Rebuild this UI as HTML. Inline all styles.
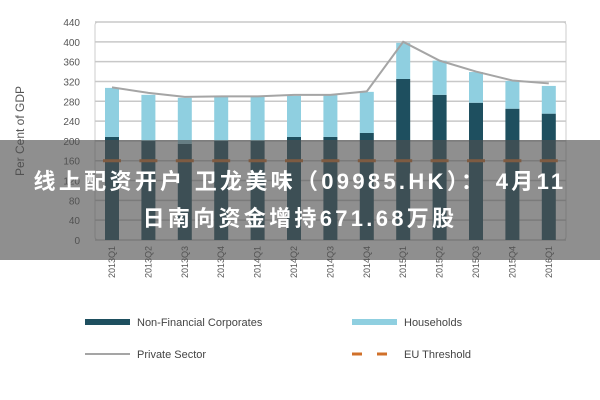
<!DOCTYPE html>
<html><head><meta charset="utf-8"><style>
body{margin:0;width:600px;height:400px;background:#fff;overflow:hidden;font-family:"Liberation Sans","Noto Sans CJK SC",sans-serif}
#banner{position:absolute;left:0;top:140px;width:600px;height:120px;background:rgba(80,80,80,0.64);color:#fff;font-weight:bold;font-size:22px;letter-spacing:3.3px;text-align:center;line-height:37px;display:flex;flex-direction:column;justify-content:center;white-space:nowrap}
</style></head><body>
<svg id="chart" width="600" height="400" style="position:absolute;left:0;top:0"></svg>
<div id="banner"><div>线上配资开户 卫龙美味（09985.HK）： 4月11</div><div>日南向资金增持671.68万股</div></div>
<script>
const categories=["2013Q1","2013Q2","2013Q3","2013Q4","2014Q1","2014Q2","2014Q3","2014Q4","2015Q1","2015Q2","2015Q3","2015Q4","2016Q1"];
const corporates=[208,200,194,200,200,208,208,216,325,293,277,265,255];
const households=[99,93,93,89,89,83,85,83,73,69,62,56,56];
const privateSector=[308,297,289,290,290,293,293,300,400,362,340,322,316];
const euThreshold=160;
const yTicks=[0,40,80,120,160,200,240,280,320,360,400,440];
const NS="http://www.w3.org/2000/svg",svg=document.getElementById('chart');
const L=95,R=566,T=22,B=240;
const y=v=>B-(v/440)*(B-T);
const x=i=>112+i*36.4;
function mk(t,a,p){const e=document.createElementNS(NS,t);for(const k in a)e.setAttribute(k,a[k]);(p||svg).appendChild(e);return e;}
let e=mk('rect',{x:L,y:T,width:R-L,height:B-T,fill:'#fff',stroke:'#ccc',rx:3});

yTicks.forEach(v=>{
 let g=mk('line',{x1:L,x2:R,y1:y(v),y2:y(v),stroke:'#c8c8c8','stroke-width':1.5});
 
 let t=mk('text',{x:80,y:y(v)+4,'text-anchor':'end','font-size':10,fill:'#555'});t.textContent=v;
 
});
let yt=mk('text',{x:24,y:131,transform:'rotate(-90 24 131)','text-anchor':'middle','font-size':12,fill:'#555'});yt.textContent='Per Cent of GDP';

categories.forEach((c,i)=>{
 let b=mk('rect',{x:x(i)-7,y:y(corporates[i]),width:14,height:B-y(corporates[i]),fill:'#1e4f5f'});
 
 let h=mk('rect',{x:x(i)-7,y:y(corporates[i]+households[i]),width:14,height:y(corporates[i])-y(corporates[i]+households[i]),fill:'#8fcfe0'});
 
 let d=mk('line',{x1:x(i)-9,x2:x(i)+9,y1:y(euThreshold),y2:y(euThreshold),stroke:'#d0702a','stroke-width':3});
 
 let t=mk('text',{x:x(i)+3,y:246,transform:`rotate(-90 ${x(i)+3} 246)`,'text-anchor':'end','font-size':9,fill:'#555'});t.textContent=c;
 
});
let pl=mk('polyline',{points:privateSector.map((v,i)=>x(i)+','+y(v)).join(' '),fill:'none',stroke:'#a5a5a5','stroke-width':2});

function leg(name,xx,yy,type,label){
 let g=mk('g',{});
 if(type==='dark')mk('rect',{x:xx,y:yy-3,width:45,height:6,fill:'#1e4f5f'},g);
 if(type==='light')mk('rect',{x:xx,y:yy-3,width:45,height:6,fill:'#8fcfe0'},g);
 if(type==='line')mk('line',{x1:xx,x2:xx+45,y1:yy,y2:yy,stroke:'#a5a5a5','stroke-width':2},g);
 if(type==='dash')mk('line',{x1:xx,x2:xx+45,y1:yy,y2:yy,stroke:'#d0702a','stroke-width':3,'stroke-dasharray':'10 15'},g);
 let t=mk('text',{x:xx+52,y:yy+4,'font-size':11,fill:'#444'},g);t.textContent=label;
}
leg('legend-corporates',85,322,'dark','Non-Financial Corporates');
leg('legend-households',352,322,'light','Households');
leg('legend-private-sector',85,354,'line','Private Sector');
leg('legend-eu-threshold',352,354,'dash','EU Threshold');
</script>
</body></html>
